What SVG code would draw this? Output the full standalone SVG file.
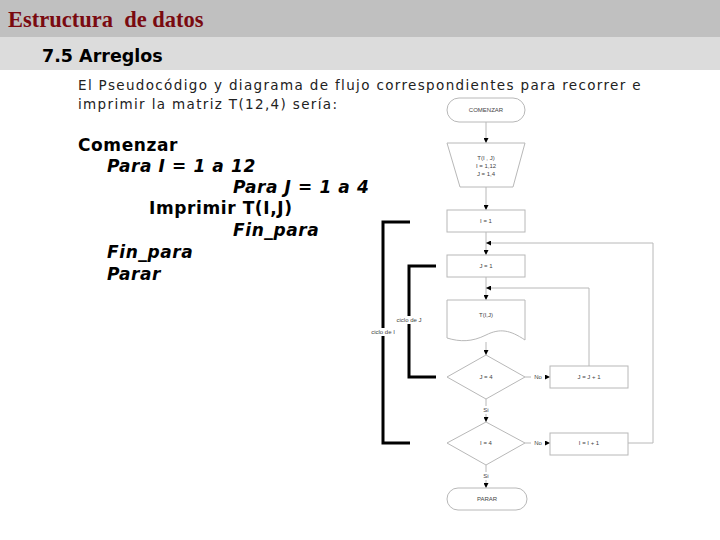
<svg xmlns="http://www.w3.org/2000/svg" width="720" height="540" viewBox="0 0 720 540">
<defs>
<style>
.fc{fill:#fff;stroke:#b8b8b8;stroke-width:1}
.ln{fill:none;stroke:#b8b8b8;stroke-width:1}
.br{fill:none;stroke:#000;stroke-width:3}
.ft{font-family:"Liberation Sans",Arial,sans-serif;font-size:6px;fill:#444;text-anchor:middle}
.pc{font-family:"DejaVu Sans",Verdana,sans-serif;font-size:17px;font-weight:bold;fill:#000;letter-spacing:0.6px}
.it{font-style:italic}
.pt{font-family:"DejaVu Sans",Verdana,sans-serif;font-size:13.5px;fill:#222;letter-spacing:1.35px}
</style>
<marker id="ah" viewBox="0 0 6 6" refX="6" refY="3" markerWidth="5" markerHeight="5" orient="auto" markerUnits="userSpaceOnUse">
<path d="M0,0 L6,3 L0,6 z" fill="#000"/>
</marker>
</defs>
<rect x="0" y="0" width="720" height="540" fill="#fff"/>
<rect x="0" y="0" width="720" height="37" fill="#c0c0c0"/>
<rect x="0" y="37" width="720" height="33" fill="#dcdcdc"/>
<text x="8" y="27" font-family="'Liberation Serif','Times New Roman',serif" font-size="22.5" font-weight="bold" fill="#7a0a10" xml:space="preserve">Estructura  de datos</text>
<text x="42" y="62" font-family="'DejaVu Sans',Verdana,sans-serif" font-size="17.5" font-weight="bold" fill="#000">7.5 Arreglos</text>
<text class="pt" x="78" y="90">El Pseudocódigo y diagrama de flujo correspondientes para recorrer e</text>
<text class="pt" x="78" y="109">imprimir la matriz T(12,4) sería:</text>
<g id="pseudocode">
<text class="pc" x="78" y="151">Comenzar</text>
<text class="pc it" x="107" y="172">Para I = 1 a 12</text>
<text class="pc it" x="233" y="193">Para J = 1 a 4</text>
<text class="pc" x="149" y="214">Imprimir T(I,J)</text>
<text class="pc it" x="233" y="236">Fin_para</text>
<text class="pc it" x="107" y="258">Fin_para</text>
<text class="pc it" x="107" y="280">Parar</text>
</g>
<g id="connectors">
<line class="ln" x1="486" y1="122" x2="486" y2="143" marker-end="url(#ah)"/>
<line class="ln" x1="486" y1="187" x2="486" y2="210" marker-end="url(#ah)"/>
<line class="ln" x1="486" y1="232" x2="486" y2="255" marker-end="url(#ah)"/>
<line class="ln" x1="486" y1="277" x2="486" y2="300" marker-end="url(#ah)"/>
<line class="ln" x1="486" y1="342" x2="486" y2="355" marker-end="url(#ah)"/>
<line class="ln" x1="486" y1="399" x2="486" y2="422" marker-end="url(#ah)"/>
<line class="ln" x1="486" y1="465" x2="486" y2="488" marker-end="url(#ah)"/>
<line class="ln" x1="525" y1="377" x2="550" y2="377" marker-end="url(#ah)"/>
<line class="ln" x1="525" y1="443" x2="550" y2="443" marker-end="url(#ah)"/>
<polyline class="ln" points="589,366 589,288 486,288" marker-end="url(#ah)"/>
<polyline class="ln" points="628,443 653,443 653,243 486,243" marker-end="url(#ah)"/>
<rect x="531" y="373" width="14" height="8" fill="#fff"/>
<text class="ft" x="538" y="379">No</text>
<rect x="531" y="439" width="14" height="8" fill="#fff"/>
<text class="ft" x="538" y="445">No</text>
<rect x="480" y="406" width="12" height="8" fill="#fff"/>
<text class="ft" x="486" y="412">Si</text>
<rect x="480" y="472" width="12" height="8" fill="#fff"/>
<text class="ft" x="486" y="478">Si</text>
</g>
<g id="n-comenzar">
<rect class="fc" x="447" y="98" width="78" height="24" rx="12" ry="12"/>
<text class="ft" x="486" y="112">COMENZAR</text>
</g>
<g id="n-dim">
<polygon class="fc" points="447,143 525,143 513,187 460,187"/>
<text class="ft" x="486" y="160">T(I , J)</text>
<text class="ft" x="486" y="168">I = 1,12</text>
<text class="ft" x="486" y="176">J = 1,4</text>
</g>
<g id="n-i1">
<rect class="fc" x="447" y="210" width="78" height="22"/>
<text class="ft" x="486" y="223">I = 1</text>
</g>
<g id="n-j1">
<rect class="fc" x="447" y="255" width="78" height="22"/>
<text class="ft" x="486" y="268">J = 1</text>
</g>
<g id="n-print">
<path class="fc" d="M447,300 H525 V340 C510,330 500,328 486,335 C472,342 460,342 447,338 Z"/>
<text class="ft" x="486" y="317">T(I,J)</text>
</g>
<g id="n-dj">
<polygon class="fc" points="486,355 525,377 486,399 447,377"/>
<text class="ft" x="486" y="379">J = 4</text>
</g>
<g id="n-jinc">
<rect class="fc" x="550" y="366" width="78" height="22"/>
<text class="ft" x="589" y="379">J = J + 1</text>
</g>
<g id="n-di">
<polygon class="fc" points="486,422 525,443 486,465 447,443"/>
<text class="ft" x="486" y="445">I = 4</text>
</g>
<g id="n-iinc">
<rect class="fc" x="550" y="433" width="78" height="22"/>
<text class="ft" x="589" y="445">I = I + 1</text>
</g>
<g id="n-parar">
<rect class="fc" x="447" y="488" width="80" height="22" rx="11" ry="11"/>
<text class="ft" x="487" y="501">PARAR</text>
</g>
<g id="brackets">
<polyline class="br" points="410,222 383,222 383,443 410,443"/>
<polyline class="br" points="436,266 409,266 409,377 436,377"/>
<rect x="394" y="316" width="30" height="8" fill="#fff"/>
<text class="ft" x="409" y="322">ciclo de J</text>
<rect x="370" y="328" width="26" height="8" fill="#fff"/>
<text class="ft" x="383" y="334">ciclo de I</text>
</g>
</svg>
